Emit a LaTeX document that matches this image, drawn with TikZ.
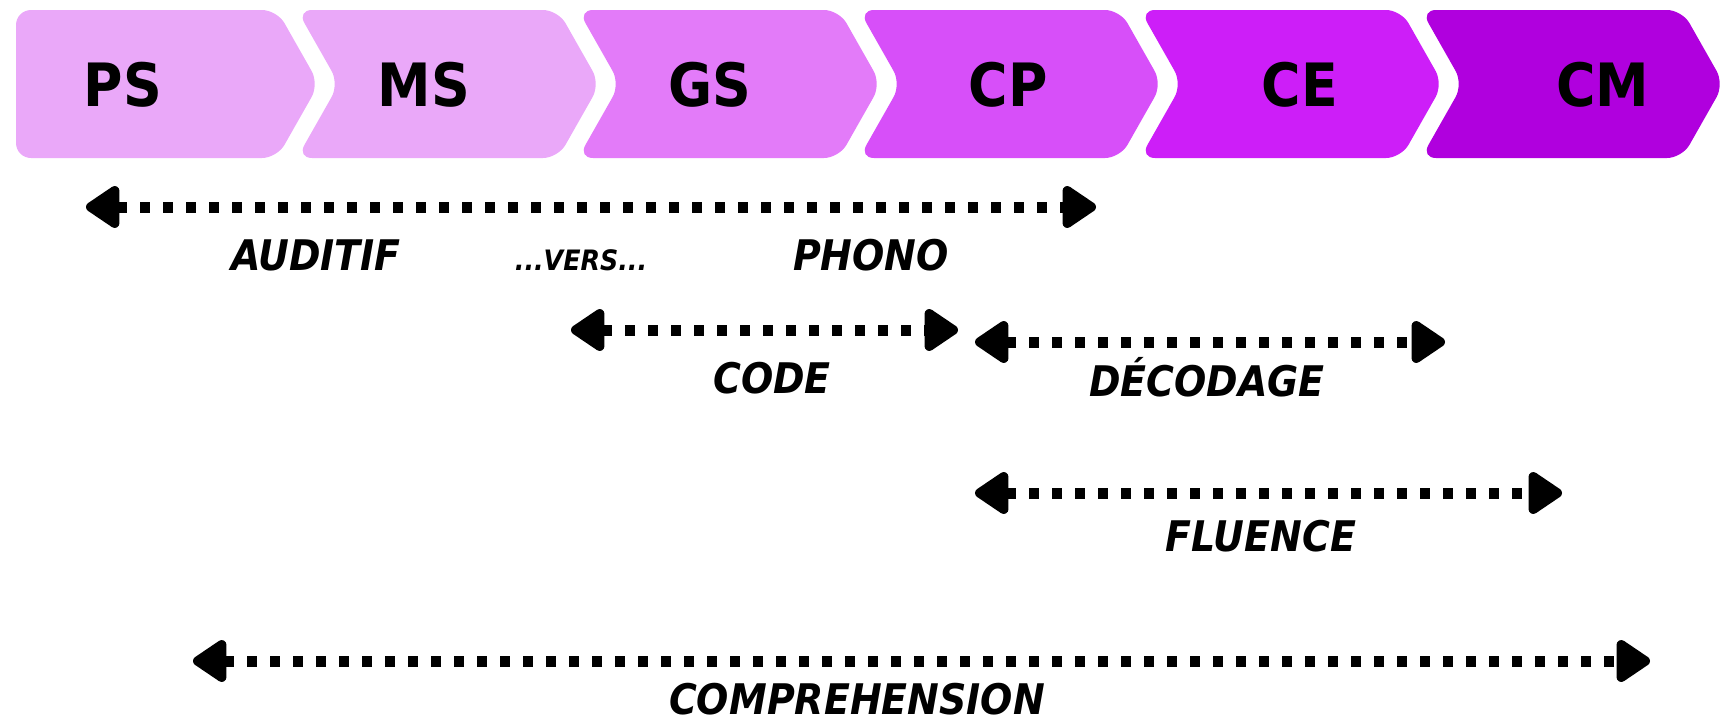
\documentclass[tikz,border=0pt]{standalone}
\usepackage{fontspec}
\newfontfamily\stagefont{DejaVu Sans Condensed}
\usetikzlibrary{arrows.meta}
\definecolor{psc}{HTML}{EAA8F9}
\definecolor{msc}{HTML}{EAA8F9}
\definecolor{gsc}{HTML}{E37BF9}
\definecolor{cpc}{HTML}{D74FF9}
\definecolor{cec}{HTML}{CD1EF8}
\definecolor{cmc}{HTML}{B000DE}
\begin{document}
\begin{tikzpicture}
    [x=0.2mm, y=-0.2mm,
    stage/.style={font=\stagefont\bfseries\fontsize{34}{34}\selectfont, anchor=base},
    lbl/.style={font=\stagefont\bfseries\itshape\fontsize{24}{24}\selectfont, anchor=base},
    span/.style={line width=2.2mm, dash pattern=on 2mm off 2.6mm,
      {Triangle[length=7.5mm,width=9.5mm,round]}-{Triangle[length=7.5mm,width=9.5mm,round]}}]
    \useasboundingbox (0,0) rectangle (1727,724);
    % chevrons
    \fill[psc, rounded corners=3mm] (146,10) -- (277,10) -- (319,84) -- (277,158)
      -- (16,158) -- (16,10) -- cycle;
    \foreach \col [count=\i] in {msc,gsc,cpc,cec,cmc}
      \fill[\col, rounded corners=3mm] (16+281*\i+130,10) -- ++(131,0) -- ++(42,74)
        -- ++(-42,74) -- ++(-261,0) -- ++(42,-74) -- ++(-42,-74) -- cycle;
    \node[stage] (ps) at (123,106) {PS};
    \node[stage] (ms) at (424,106) {MS};
    \node[stage] (gs) at (710,106) {GS};
    \node[stage] (cp) at (1008,106) {CP};
    \node[stage] (ce) at (1300,106) {CE};
    \node[stage] (cm) at (1603,106) {CM};
    % spans
    \coordinate (audL) at (86,207);
    \coordinate (audR) at (1096,207);
    \coordinate (codeL) at (571,330);
    \coordinate (codeR) at (958,330);
    \coordinate (decL) at (975,342);
    \coordinate (decR) at (1445,342);
    \coordinate (fluL) at (975,493);
    \coordinate (fluR) at (1562,493);
    \coordinate (comL) at (193,661);
    \coordinate (comR) at (1650,661);
    \draw[span] (audL) -- (audR);
    \draw[span] (codeL) -- (codeR);
    \draw[span] (decL) -- (decR);
    \draw[span] (fluL) -- (fluR);
    \draw[span] (comL) -- (comR);
    \node[lbl] (auditif) at (316,270) {AUDITIF};
    \node[lbl, font=\stagefont\bfseries\itshape\fontsize{16}{16}\selectfont] (vers) at (581,270) {...VERS...};
    \node[lbl] (phono) at (871,270) {PHONO};
    \node[lbl] (code) at (772,393) {CODE};
    \node[lbl] (decodage) at (1207,396) {DÉCODAGE};
    \node[lbl] (fluence) at (1261,551) {FLUENCE};
    \node[lbl, inner sep=1pt] (compr) at (857,714) {COMPREHENSION};
\end{tikzpicture}
\end{document}
